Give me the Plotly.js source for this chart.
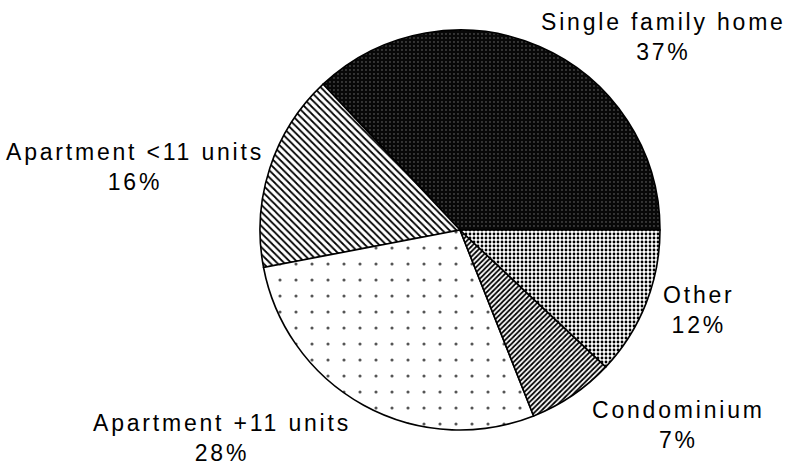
<!DOCTYPE html>
<html>
<head>
<meta charset="utf-8">
<script src="https://cdn.plot.ly/plotly-3.0.1.min.js"></script>
<style>
  html, body { margin: 0; padding: 0; background: #fff; }
  #chart { width: 790px; height: 466px; }
  .annotation-text { letter-spacing: 2.8px; }
</style>
</head>
<body>
<div id="chart"></div>
<script>
// ---- data ----
const labels = ["Single family home", "Apartment <11 units", "Apartment +11 units", "Condominium", "Other"];
const values = [37, 16, 28, 7, 12];

// ---- styles (not data) ----
const patShapes = [".", "\\", ".", "/", "."];
const patBg     = ["#080808", "#ffffff", "#ffffff", "#ffffff", "#ffffff"];
const patFg     = ["#777777", "#000000", "#555555", "#000000", "#000000"];
const labelPos  = [[663, 37], [135, 167], [222, 438], [678, 425], [699, 310]]; // pixel centres

const W = 790, H = 466;
const total = values.reduce((a, b) => a + b, 0);

const trace = {
  type: "pie",
  labels: labels,
  values: values,
  sort: false,
  direction: "counterclockwise",
  // first slice begins at 3 o'clock and runs counter-clockwise
  rotation: 90 - 360 * values[0] / total,
  textinfo: "none",
  hoverinfo: "skip",
  showlegend: false,
  domain: { x: [260 / W, 660 / W], y: [1 - 430 / H, 1 - 30 / H] },
  marker: {
    colors: patBg,
    line: { color: "#000", width: 1.6 },
    pattern: {
      shape: patShapes,
      bgcolor: patBg,
      fgcolor: patFg,
      size: [4, 5, 16, 3.6, 4],
      solidity: [0.1, 0.35, 0.03, 0.5, 0.4],
      fillmode: "replace"
    }
  }
};

const annotations = labels.map((lab, i) => ({
  text: lab.replace("<", "&lt;") + "<br>" + values[i] + "%",
  x: labelPos[i][0] / W,
  y: 1 - labelPos[i][1] / H,
  xref: "paper", yref: "paper",
  xanchor: "center", yanchor: "middle",
  align: "center",
  showarrow: false,
  font: { family: "Liberation Sans, Arial, sans-serif", size: 23, color: "#000" }
}));

const layout = {
  width: W, height: H,
  margin: { l: 0, r: 0, t: 0, b: 0 },
  paper_bgcolor: "#fff",
  plot_bgcolor: "#fff",
  annotations: annotations
};

Plotly.newPlot("chart", [trace], layout, { displayModeBar: false, staticPlot: true });
</script>
</body>
</html>
